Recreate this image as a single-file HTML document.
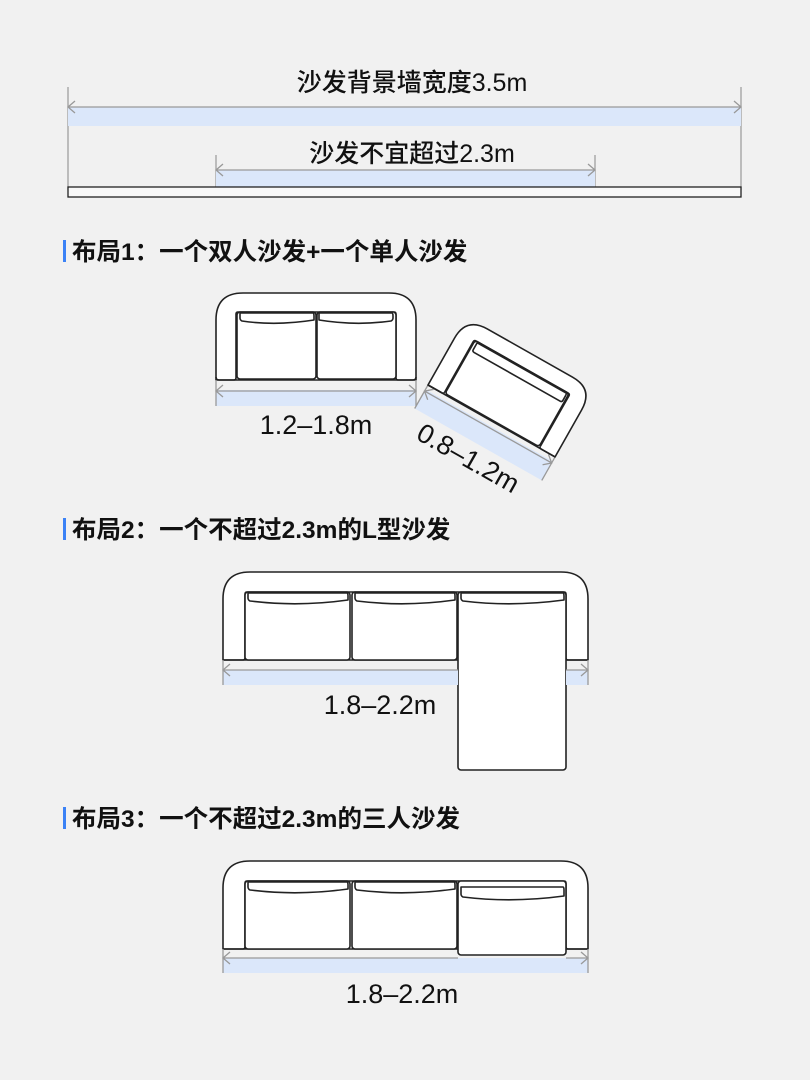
<!DOCTYPE html>
<html><head><meta charset="utf-8"><style>
html,body{margin:0;padding:0;background:#f1f1f1;}
svg{display:block}
text{font-family:"Liberation Sans","Noto Sans CJK SC",sans-serif;fill:#111;}
</style></head><body>
<svg width="810" height="1080" viewBox="0 0 810 1080" xmlns="http://www.w3.org/2000/svg">
<rect width="810" height="1080" fill="#f1f1f1"/>
<g stroke="#999" stroke-width="1.2" fill="none">
<line x1="68" y1="87" x2="68" y2="190"/>
<line x1="741" y1="87" x2="741" y2="190"/>
<line x1="216" y1="155" x2="216" y2="188"/>
<line x1="595" y1="155" x2="595" y2="188"/>
</g>
<rect x="68" y="107" width="673" height="19" fill="#dbe7fa"/>
<rect x="216" y="170" width="379" height="17" fill="#dbe7fa"/>
<g stroke="#999" stroke-width="1.3" fill="none">
<line x1="68" y1="107" x2="741" y2="107"/>
<polyline points="75,101 68,107 75,113"/><polyline points="734,101 741,107 734,113"/>
<line x1="216" y1="170" x2="595" y2="170"/>
<polyline points="223,164 216,170 223,176"/><polyline points="588,164 595,170 588,176"/>
</g>
<rect x="68" y="187" width="673" height="10" fill="#f8f8f8" stroke="#222" stroke-width="1.3"/>
<text x="412" y="91" font-size="25" text-anchor="middle" font-weight="500">沙发背景墙宽度3.5m</text>
<text x="412" y="162" font-size="25" text-anchor="middle" font-weight="500">沙发不宜超过2.3m</text>

<rect x="63" y="240" width="3" height="22" fill="#3b82f6"/>
<text x="72" y="260" font-size="24.5" font-weight="bold">布局1：一个双人沙发+一个单人沙发</text>
<rect x="63" y="518" width="3" height="22" fill="#3b82f6"/>
<text x="72" y="538" font-size="24.5" font-weight="bold">布局2：一个不超过2.3m的L型沙发</text>
<rect x="63" y="807" width="3" height="22" fill="#3b82f6"/>
<text x="72" y="827" font-size="24.5" font-weight="bold">布局3：一个不超过2.3m的三人沙发</text>

<g stroke="#222" stroke-width="1.6" fill="#fff" stroke-linejoin="round">
<path d="M216,380 V320 Q216,293 243,293 H389 Q416,293 416,320 V380 Z"/>
<path d="M236,378 Q236,380 234,380 H219 Q216,380 216,377" fill="none"/>
<path d="M236,378 V314 Q236,312 238,312 H394 Q396,312 396,314 V378" fill="none"/>
<path d="M396,378 Q396,380 398,380 H413 Q416,380 416,377" fill="none"/>
<rect x="237" y="312" width="79" height="67" rx="3"/>
<rect x="317" y="312" width="79" height="67" rx="3"/>
<path d="M240,313 H313 Q314,313 314,316 V320 Q276,326 242,321 Q240,320 240,318 Z"/>
<path d="M319,313 H392 Q393,313 393,316 V318 Q393,320 391,321 Q356,326 319,320 Z"/>
</g>
<rect x="216" y="390" width="200" height="16" fill="#dbe7fa"/>
<g stroke="#999" stroke-width="1.3" fill="none">
<line x1="216" y1="380" x2="216" y2="406"/><line x1="416" y1="380" x2="416" y2="406"/>
<line x1="216" y1="391" x2="416" y2="391"/>
<polyline points="223,385 216,391 223,397"/><polyline points="409,385 416,391 409,397"/>
</g>
<text x="316" y="434" font-size="27" text-anchor="middle">1.2–1.8m</text>

<g transform="translate(428,385) rotate(29.5)">
<rect x="0" y="5" width="146" height="22" fill="#dbe7fa"/>
<g stroke="#999" stroke-width="1.3" fill="none">
<line x1="0" y1="0" x2="0" y2="27"/><line x1="146" y1="0" x2="146" y2="27"/>
<line x1="0" y1="7" x2="146" y2="7"/>
<polyline points="7,1 0,7 7,13"/><polyline points="139,1 146,7 139,13"/>
</g>
<g stroke="#222" stroke-width="1.6" fill="#fff" stroke-linejoin="round">
<path d="M0,0 V-54 Q0,-78 24,-78 H122 Q146,-78 146,-54 V0 Z"/>
<path d="M18,-2 V-60 Q18,-62 20,-62 H126 Q128,-62 128,-60 V-2" fill="none"/>
<path d="M18,-2 Q18,0 16,0 H0 M128,-2 Q128,0 130,0 H146" fill="none"/>
<rect x="19" y="-62" width="108" height="61" rx="3"/>
<path d="M22,-61 H124 Q125,-61 125,-58 V-53 Q125,-51 123,-51 H24 Q22,-51 22,-53 Z"/>
</g>
<text x="71" y="53" font-size="27" text-anchor="middle">0.8–1.2m</text>
</g>

<g stroke="#222" stroke-width="1.6" fill="#fff" stroke-linejoin="round">
<path d="M223,660 V599 Q223,572 250,572 H561 Q588,572 588,599 V660 Z"/>
<path d="M245,658 V594 Q245,592 247,592 H564 Q566,592 566,594 V658" fill="none"/>
<path d="M245,658 Q245,660 243,660 H223 M566,658 Q566,660 568,660 H588" fill="none"/>
<rect x="245" y="592" width="105" height="68" rx="3"/>
<rect x="352" y="592" width="105" height="68" rx="3"/>
<rect x="458" y="592" width="108" height="178" rx="3"/>
<path d="M248,593 H347 Q348,593 348,596 V600 Q298,607 250,601 Q248,600 248,598 Z"/>
<path d="M355,593 H454 Q455,593 455,596 V600 Q405,607 357,601 Q355,600 355,598 Z"/>
<path d="M461,593 H563 Q564,593 564,596 V600 Q512,607 463,601 Q461,600 461,598 Z"/>
</g>
<rect x="223" y="670" width="235" height="15" fill="#dbe7fa"/>
<rect x="566" y="670" width="22" height="15" fill="#dbe7fa"/>
<g stroke="#999" stroke-width="1.3" fill="none">
<line x1="223" y1="660" x2="223" y2="685"/><line x1="588" y1="660" x2="588" y2="685"/>
<line x1="223" y1="670" x2="458" y2="670"/><line x1="566" y1="670" x2="588" y2="670"/>
<polyline points="230,664 223,670 230,676"/><polyline points="581,664 588,670 581,676"/>
</g>
<text x="380" y="714" font-size="27" text-anchor="middle">1.8–2.2m</text>

<g stroke="#222" stroke-width="1.6" fill="#fff" stroke-linejoin="round">
<path d="M223,949 V888 Q223,861 250,861 H561 Q588,861 588,888 V949 Z"/>
<path d="M245,947 V883 Q245,881 247,881 H564 Q566,881 566,883 V947" fill="none"/>
<path d="M245,947 Q245,949 243,949 H223 M566,947 Q566,949 568,949 H588" fill="none"/>
<rect x="245" y="881" width="105" height="68" rx="3"/>
<rect x="352" y="881" width="105" height="68" rx="3"/>
<rect x="458" y="881" width="108" height="74" rx="3"/>
<path d="M248,882 H347 Q348,882 348,885 V889 Q298,896 250,890 Q248,889 248,887 Z"/>
<path d="M355,882 H454 Q455,882 455,885 V889 Q405,896 357,890 Q355,889 355,887 Z"/>
<path d="M461,887 H563 Q564,887 564,890 V896 Q512,903 463,897 Q461,896 461,894 Z"/>
</g>
<rect x="223" y="958" width="365" height="15" fill="#dbe7fa"/>
<g stroke="#999" stroke-width="1.3" fill="none">
<line x1="223" y1="949" x2="223" y2="973"/><line x1="588" y1="949" x2="588" y2="973"/>
<line x1="223" y1="958" x2="458" y2="958"/><line x1="566" y1="958" x2="588" y2="958"/>
<polyline points="230,952 223,958 230,964"/><polyline points="581,952 588,958 581,964"/>
</g>
<text x="402" y="1003" font-size="27" text-anchor="middle">1.8–2.2m</text>
</svg>
</body></html>
